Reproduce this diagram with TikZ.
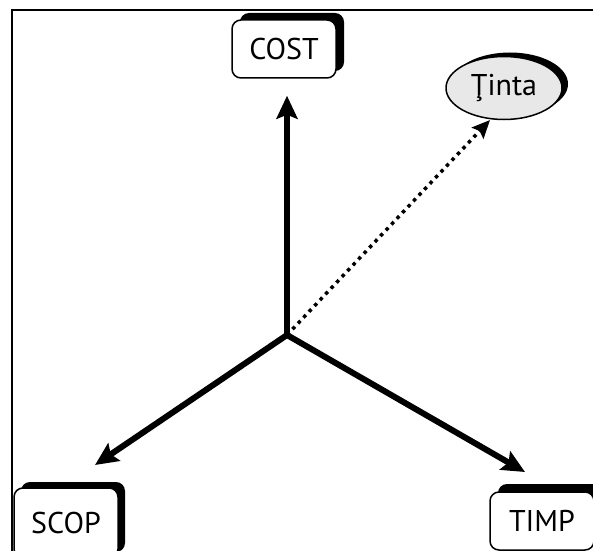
\documentclass[tikz,border=0pt]{standalone}
\usepackage{fontspec}
\setmainfont{PT Sans}
\usetikzlibrary{arrows.meta,shapes.geometric}

\tikzset{
  labelbox/.style={draw=black, line width=1.5pt, fill=white, rounded corners=9pt,
    minimum width=104pt, minimum height=58pt, inner sep=0pt,
    font=\fontsize{30}{34}\selectfont},
  boxshadow/.style={fill=black, draw=none, rounded corners=9pt,
    minimum width=104pt, minimum height=58pt},
  goal/.style={ellipse, draw=black, line width=1.5pt, fill=black!9,
    minimum width=116pt, minimum height=63pt, inner sep=0pt,
    font=\fontsize{30}{34}\selectfont},
  goalshadow/.style={ellipse, fill=black, draw=none,
    minimum width=116pt, minimum height=63pt},
  axis/.style={line width=6pt, -{Stealth[length=23pt,width=21pt,inset=4pt]}},
  aim/.style={line width=3.5pt, dash pattern=on 3.5pt off 4.5pt,
    -{Stealth[length=18pt,width=16pt,inset=3pt]}},
}

\begin{document}
\begin{tikzpicture}[x=1pt,y=1pt]
  \useasboundingbox (0,0) rectangle (593,550);
  \clip (0,0) rectangle (593,550);

  % outer frame
  \draw[line width=2pt] (12,-20) -- (12,540) -- (620,540);

  % shadows behind the boxes
  \node[boxshadow] at (292,508) {};
  \node[boxshadow, minimum height=70pt] at (73,33) {};
  \node[boxshadow] at (550,37) {};
  \node[goalshadow] at (510,466) {};

  % boxes
  \node[labelbox] (cost) at (284,501) {COST};
  \node[labelbox, minimum height=70pt] (scop) at (66,27) {SCOP};
  \node[labelbox] (timp) at (542,29) {TIMP};
  \node[goal] (tinta) at (504,462) {Ţinta};

  % origin of the axes
  \coordinate (o) at (287,215);

  % axes
  \draw[axis, shorten >=17pt] (o) -- (cost.south -| o);
  \draw[axis] (o) -- (95,85);
  \draw[axis] (o) -- (525,78);
  \draw[aim] (o) -- (490,430);
\end{tikzpicture}
\end{document}
